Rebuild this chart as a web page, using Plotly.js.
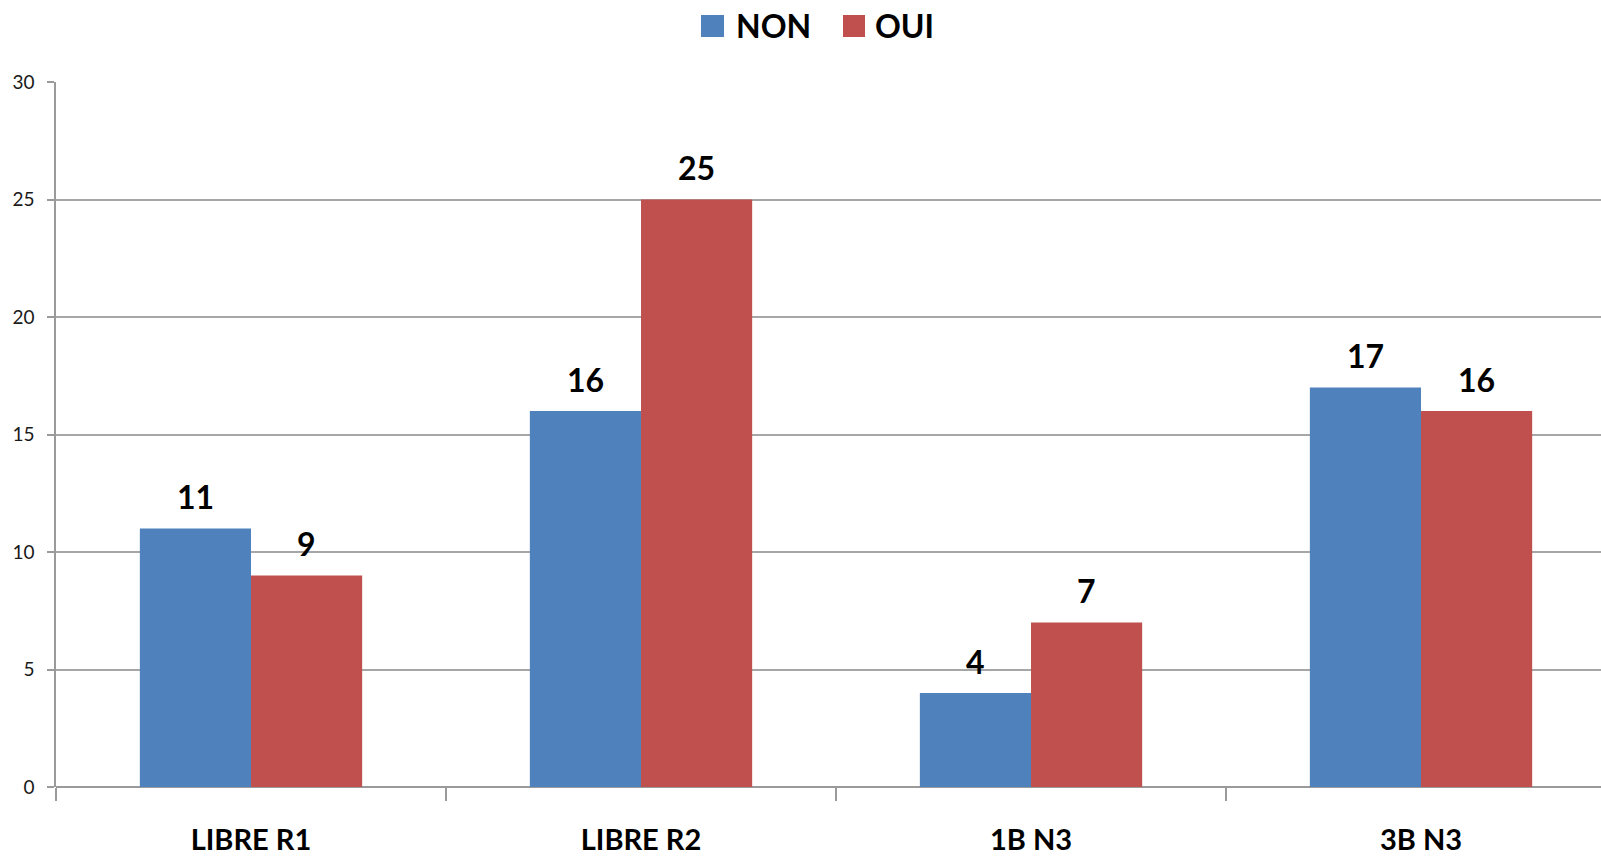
<!DOCTYPE html>
<html>
<head>
<meta charset="utf-8">
<script src="https://cdn.plot.ly/plotly-3.0.1.min.js"></script>
<style>html,body{margin:0;padding:0;background:#fff;}#chart{width:1601px;height:859px;}</style>
</head>
<body>
<div id="chart"></div>
<script>
const categories = ["LIBRE R1", "LIBRE R2", "1B N3", "3B N3"];
const seriesNames = ["NON", "OUI"];
const nonValues = [11, 16, 4, 17];
const ouiValues = [9, 25, 7, 16];
const yTicks = [0, 5, 10, 15, 20, 25, 30];

const colors = ["#4F81BD", "#C0504D"];
const FONT = "Lato, 'Open Sans', sans-serif";
const values = [nonValues, ouiValues];
const BARGAP = 0.43;

const traces = values.map((v, i) => ({
  type: "bar",
  name: seriesNames[i],
  x: categories,
  y: v,
  marker: {color: colors[i], line: {width: 0}},
  showlegend: false,
  hoverinfo: "x+y+name"
}));

// bar half-width in px for label offsets: category 390px
const barPx = 390 * (1 - BARGAP) / 2;
const annotations = [];
values.forEach((v, i) => {
  v.forEach((val, j) => {
    annotations.push({
      x: categories[j], y: val, xref: "x", yref: "y",
      text: "<b>" + val + "</b>", showarrow: false,
      xshift: (i === 0 ? -1 : 1) * barPx / 2,
      yanchor: "middle", yshift: 32,
      font: {family: FONT, size: 32, color: "#000"}
    });
  });
});

// manual legend (large square swatches)
const shapes = [];
const legendItems = [
  {x0: 701, x1: 724, tx: 734},
  {x0: 843, x1: 865, tx: 873}
];
legendItems.forEach((it, i) => {
  shapes.push({type: "rect", xref: "paper", yref: "paper",
    x0: (it.x0 - 56) / 1545, x1: (it.x1 - 56) / 1545,
    y0: 1 + (82 - 37) / 705, y1: 1 + (82 - 15) / 705,
    fillcolor: colors[i], line: {width: 0}});
  annotations.push({xref: "paper", yref: "paper",
    x: (it.tx - 56) / 1545, y: 1 + (82 - 26) / 705,
    xanchor: "left", yanchor: "middle", showarrow: false,
    text: "<b>" + seriesNames[i] + "</b>",
    font: {family: FONT, size: 32, color: "#000"}});
});

const layout = {
  width: 1601, height: 859,
  margin: {l: 56, r: 0, t: 82, b: 72, pad: 0},
  paper_bgcolor: "#fff", plot_bgcolor: "#fff",
  barmode: "group", bargap: BARGAP, bargroupgap: 0,
  showlegend: false,
  font: {family: FONT},
  xaxis: {
    type: "category",
    range: [-0.5, 3.4615],
    ticks: "outside", tickson: "boundaries", ticklen: 13, tickwidth: 1.5, tickcolor: "#9a9a9a",
    showline: false, showgrid: false, zeroline: false,
    tickfont: {family: FONT, size: 29, color: "#000", weight: "bold"},
    ticklabelstandoff: 33
  },
  yaxis: {
    range: [0, 30], tickvals: yTicks, ticktext: yTicks.map(String),
    ticks: "outside", ticklen: 7, tickwidth: 1.5, tickcolor: "#9a9a9a",
    showline: true, linecolor: "#9a9a9a", linewidth: 1.5,
    showgrid: true, gridcolor: "#a6a6a6", gridwidth: 1.5,
    zeroline: true, zerolinecolor: "#9a9a9a", zerolinewidth: 1.5,
    tickfont: {family: FONT, size: 19, color: "#1a1a1a"},
    ticklabelstandoff: 9
  },
  annotations: annotations,
  shapes: shapes
};

Plotly.newPlot("chart", traces, layout, {displayModeBar: false, responsive: false});
</script>
</body>
</html>
